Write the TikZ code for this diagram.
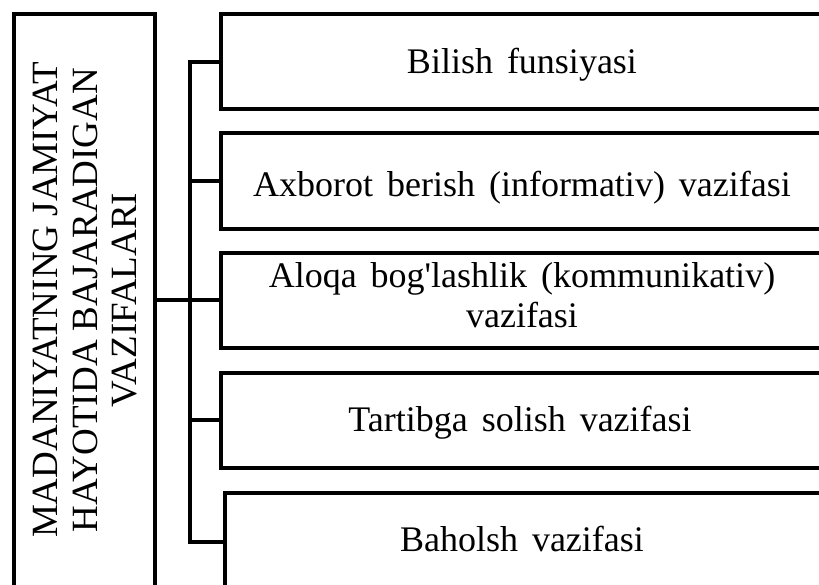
\documentclass[tikz,border=0pt]{standalone}
\usepackage{fontspec}
\setmainfont{Liberation Serif}
\newcommand{\widesp}{\spaceskip=14pt\relax}
\begin{document}
\begin{tikzpicture}[x=1pt,y=-1pt,
  box/.style={draw, line width=4pt, rectangle, inner sep=0pt, outer sep=0pt, anchor=north west},
  lbl/.style={font=\fontsize{36}{40}\selectfont\widesp, anchor=base, inner sep=0pt},
  vlbl/.style={font=\fontsize{37}{39.5}\selectfont, align=center, rotate=90, anchor=north, inner sep=0pt},
  conn/.style={line width=4pt, line cap=rect}]
\useasboundingbox (0,0) rectangle (819,585);
\clip (0,0) rectangle (819,585);
% left box
\node[box, minimum width=141pt, minimum height=620pt] (L) at (14,14) {};
% right boxes
\node[box, minimum width=640pt, minimum height=95pt] (b1) at (221,14) {};
\node[box, minimum width=640pt, minimum height=96pt] (b2) at (221,133) {};
\node[box, minimum width=640pt, minimum height=95pt] (b3) at (221,253) {};
\node[box, minimum width=640pt, minimum height=95pt] (b4) at (221,373) {};
\node[box, minimum width=640pt, minimum height=98pt] (b5) at (225,493) {};
% texts
\node[lbl] (t1) at (522,74) {Bilish funsiyasi};
\node[lbl] (t2) at (522,197) {Axborot berish (informativ) vazifasi};
\node[lbl, align=center, anchor=north] (t3) at (522,262) {Aloqa bog\textquotesingle lashlik (kommunikativ)\\vazifasi};
\node[lbl] (t4) at (520,431) {Tartibga solish vazifasi};
\node[lbl] (t5) at (522,551) {Baholsh vazifasi};
\node[vlbl] (tv) at (33,300) {MADANIYATNING JAMIYAT\\HAYOTIDA BAJARADIGAN\\VAZIFALARI};
% bracket
\coordinate (bt) at (190,62);
\coordinate (bb) at (190,542);
\draw[conn] (b1.west |- bt) -- (bt) -- (bb) -- (b5.west |- bb);
\draw[conn] (L.east |- 0,300) -- (b3.west |- 0,300);
\draw[conn] (190,181) -- (b2.west |- 0,181);
\draw[conn] (190,420) -- (b4.west |- 0,420);
\end{tikzpicture}
\end{document}
